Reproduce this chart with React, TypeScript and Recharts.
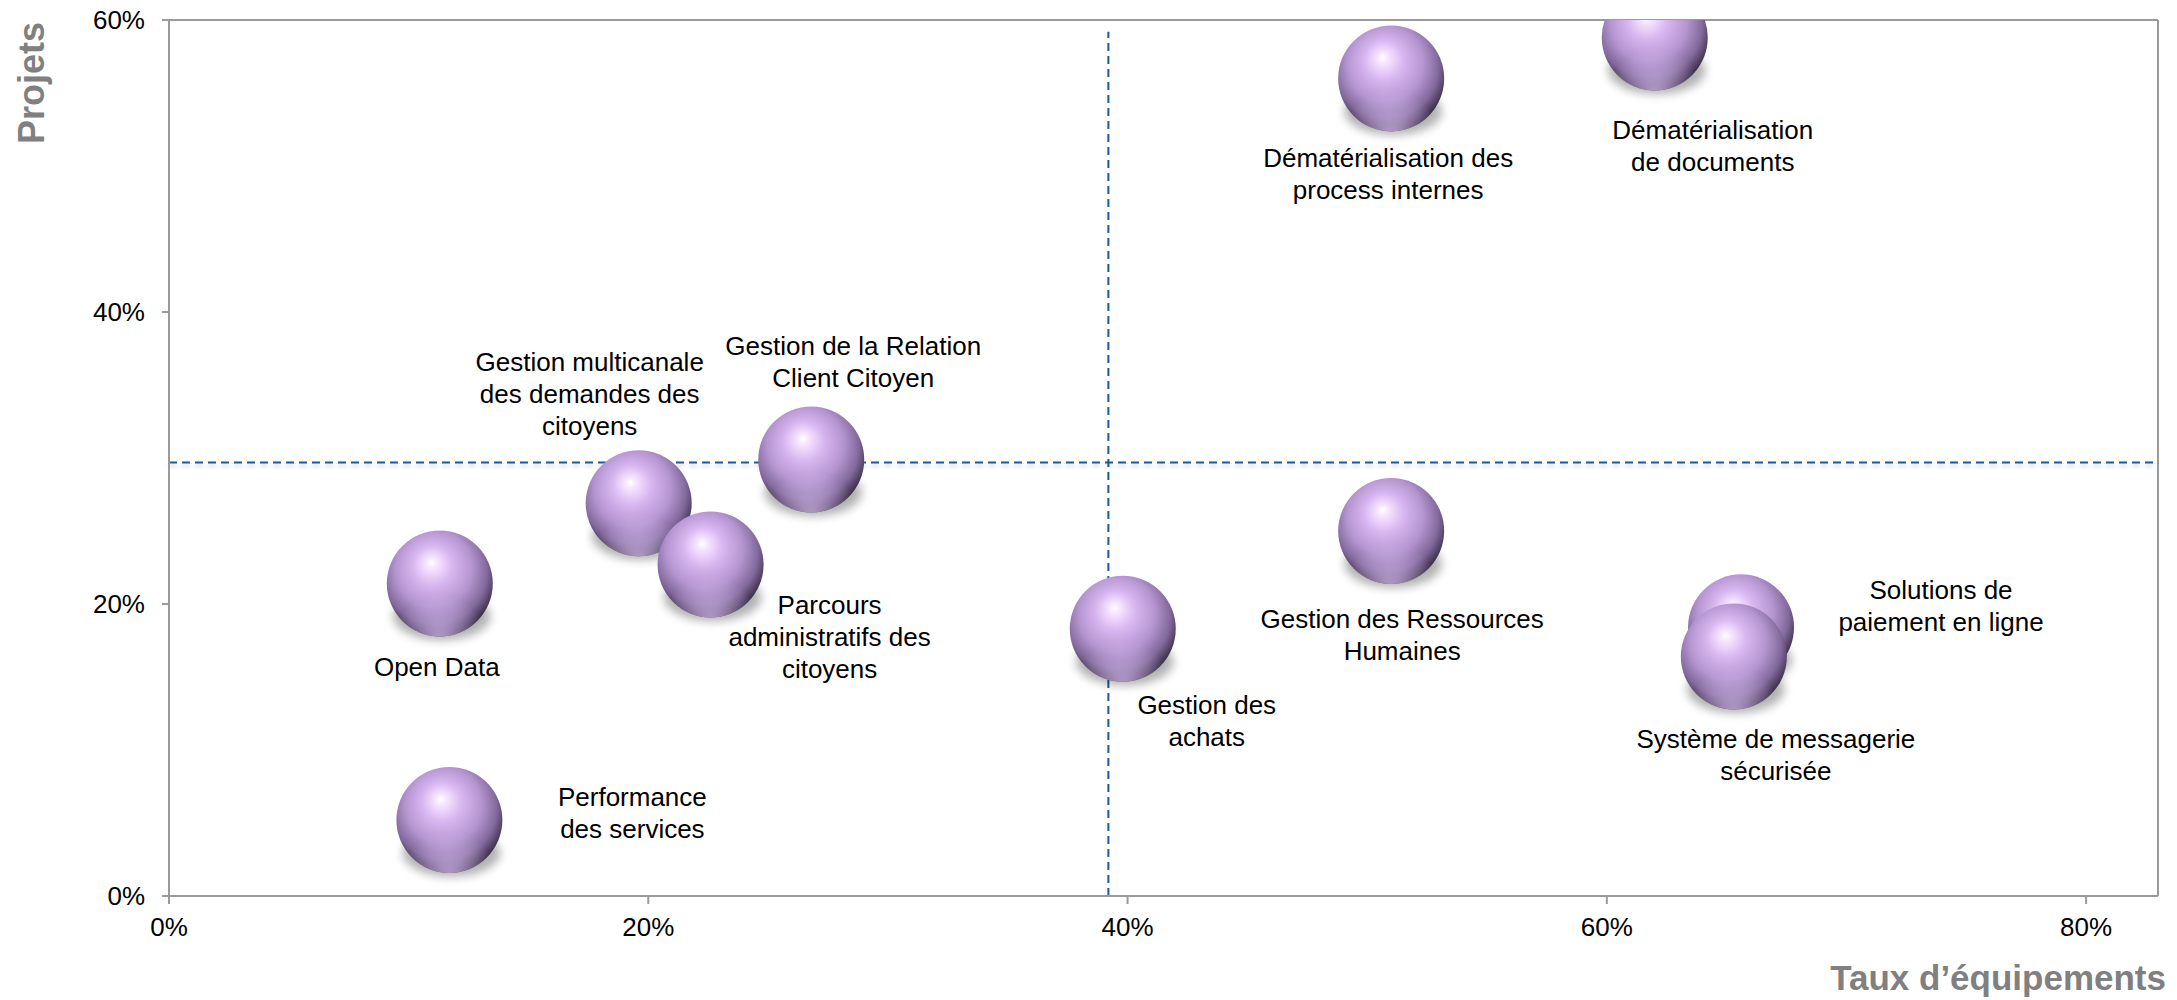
import { ScatterChart, Scatter, XAxis, YAxis, ReferenceLine } from "recharts";

// Projects: equipment rate (x) vs share of projects (y)
const projets = [
  "Open Data",
  "Performance des services",
  "Gestion multicanale des demandes des citoyens",
  "Parcours administratifs des citoyens",
  "Gestion de la Relation Client Citoyen",
  "Gestion des achats",
  "Gestion des Ressources Humaines",
  "Dématérialisation des process internes",
  "Dématérialisation de documents",
  "Solutions de paiement en ligne",
  "Système de messagerie sécurisée",
];
const tauxEquipements = [0.113, 0.117, 0.196, 0.226, 0.268, 0.398, 0.51, 0.51, 0.62, 0.656, 0.653];
const tauxProjets = [0.214, 0.052, 0.269, 0.227, 0.299, 0.183, 0.25, 0.56, 0.588, 0.184, 0.164];

const xTicks = [0, 0.2, 0.4, 0.6, 0.8];
const yTicks = [0, 0.2, 0.4, 0.6];
const moyenneEquipements = 0.392;
const moyenneProjets = 0.297;

// how each label is wrapped and where it sits relative to its bubble (px)
const labelLayout: Record<string, { lines: string[]; dx: number; dy: number }> = {
  "Open Data": { lines: ["Open Data"], dx: -3, dy: 83 },
  "Performance des services": { lines: ["Performance", "des services"], dx: 183, dy: -23 },
  "Gestion multicanale des demandes des citoyens": {
    lines: ["Gestion multicanale", "des demandes des", "citoyens"],
    dx: -49,
    dy: -141,
  },
  "Parcours administratifs des citoyens": {
    lines: ["Parcours", "administratifs des", "citoyens"],
    dx: 119,
    dy: 40,
  },
  "Gestion de la Relation Client Citoyen": {
    lines: ["Gestion de la Relation", "Client Citoyen"],
    dx: 42,
    dy: -113,
  },
  "Gestion des achats": { lines: ["Gestion des", "achats"], dx: 84, dy: 76 },
  "Gestion des Ressources Humaines": { lines: ["Gestion des Ressources", "Humaines"], dx: 11, dy: 88 },
  "Dématérialisation des process internes": {
    lines: ["Dématérialisation des", "process internes"],
    dx: -3,
    dy: 80,
  },
  "Dématérialisation de documents": { lines: ["Dématérialisation", "de documents"], dx: 58, dy: 92 },
  "Solutions de paiement en ligne": { lines: ["Solutions de", "paiement en ligne"], dx: 200, dy: -37 },
  "Système de messagerie sécurisée": { lines: ["Système de messagerie", "sécurisée"], dx: 42, dy: 82 },
};

const FONT = "'Liberation Sans', Arial, Helvetica, sans-serif";
const AXIS_GREY = "#9a9a9a";
const DASH_BLUE = "#1a5a98";
const R = 53;

const points = projets.map((name, i) => ({ name, x: tauxEquipements[i], y: tauxProjets[i] }));

const pct = (v: number) => `${Math.round(v * 100)}%`;

function Sphere(props: any) {
  const { cx, cy, payload } = props;
  const lay = labelLayout[payload.name];
  return (
    <g>
      <ellipse cx={cx + 2} cy={cy + R * 0.62} rx={R * 0.92} ry={R * 0.45} fill="#000" opacity={0.3} filter="url(#soft)" />
      <circle cx={cx} cy={cy} r={R} fill="url(#sphereFill)" />
      <circle cx={cx} cy={cy} r={R} fill="url(#rimLight)" />
      {lay &&
        lay.lines.map((ln, k) => (
          <text
            key={k}
            x={cx + lay.dx}
            y={cy + lay.dy + k * 32}
            textAnchor="middle"
            dominantBaseline="central"
            fontFamily={FONT}
            fontSize={26}
            fill="#000"
          >
            {ln}
          </text>
        ))}
    </g>
  );
}

export default function App() {
  return (
    <div style={{ position: "absolute", left: 0, top: 0, background: "#fff" }}>
      <ScatterChart width={2177} height={1000} margin={{ top: 20, right: 19, left: 69, bottom: 44 }}>
        <defs>
          <radialGradient id="sphereFill" cx="46%" cy="40%" r="62%" fx="42%" fy="30%">
            <stop offset="0%" stopColor="#ffffff" />
            <stop offset="8%" stopColor="#f8e6ff" />
            <stop offset="30%" stopColor="#d8b6f0" />
            <stop offset="58%" stopColor="#b595d0" />
            <stop offset="80%" stopColor="#82699c" />
            <stop offset="100%" stopColor="#2c2236" />
          </radialGradient>
          <radialGradient id="rimLight" cx="50%" cy="105%" r="45%">
            <stop offset="0%" stopColor="#dcc2f4" stopOpacity={0.8} />
            <stop offset="100%" stopColor="#dcc2f4" stopOpacity={0} />
          </radialGradient>
          <filter id="soft" x="-50%" y="-50%" width="200%" height="200%">
            <feGaussianBlur stdDeviation="5" />
          </filter>
          <filter id="lineShadow" filterUnits="userSpaceOnUse" x="0" y="0" width="2177" height="1000">
            <feDropShadow dx="0" dy="3" stdDeviation="2" floodColor="#000" floodOpacity="0.2" />
          </filter>
        </defs>
        <XAxis
          type="number"
          dataKey="x"
          domain={[0, 0.83]}
          ticks={xTicks}
          allowDataOverflow
          tickFormatter={pct}
          height={60}
          tickSize={8}
          tickMargin={14}
          tick={{ fontSize: 26, fontFamily: FONT, fill: "#000" }}
          axisLine={{ stroke: AXIS_GREY, strokeWidth: 2 }}
          tickLine={{ stroke: AXIS_GREY, strokeWidth: 2 }}
        />
        <YAxis
          type="number"
          dataKey="y"
          domain={[0, 0.6]}
          ticks={yTicks}
          allowDataOverflow
          tickFormatter={pct}
          width={100}
          tickSize={7}
          tickMargin={17}
          tick={{ fontSize: 26, fontFamily: FONT, fill: "#000" }}
          axisLine={{ stroke: AXIS_GREY, strokeWidth: 2 }}
          tickLine={{ stroke: AXIS_GREY, strokeWidth: 2 }}
        />
        <ReferenceLine y={0.6} stroke={AXIS_GREY} strokeWidth={2} />
        <ReferenceLine x={0.83} stroke={AXIS_GREY} strokeWidth={2} />
        <ReferenceLine
          y={moyenneProjets}
          stroke={DASH_BLUE}
          strokeWidth={2}
          strokeDasharray="8 5"
          filter="url(#lineShadow)"
        />
        <ReferenceLine
          segment={[
            { x: moyenneEquipements, y: 0 },
            { x: moyenneEquipements, y: 0.592 },
          ]}
          stroke={DASH_BLUE}
          strokeWidth={2}
          strokeDasharray="8 5"
        />
        <Scatter data={points} shape={Sphere} isAnimationActive={false} />
        <text
          x={31}
          y={83}
          transform="rotate(-90 31 83)"
          textAnchor="middle"
          dominantBaseline="central"
          fontFamily={FONT}
          fontWeight="bold"
          fontSize={36}
          fill="#808080"
        >
          Projets
        </text>
        <text x={2166} y={990} textAnchor="end" fontFamily={FONT} fontWeight="bold" fontSize={35} fill="#808080">
          Taux d’équipements
        </text>
      </ScatterChart>
    </div>
  );
}
